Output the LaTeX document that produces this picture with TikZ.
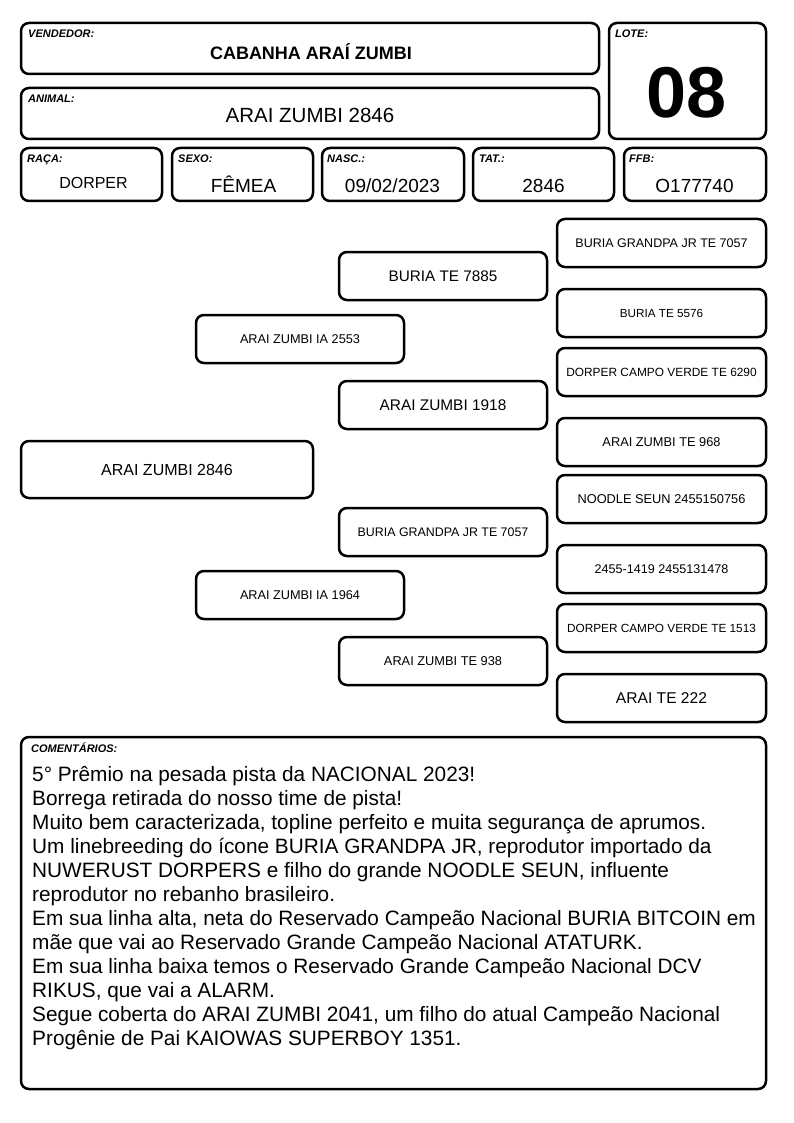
\documentclass[tikz,border=0pt]{standalone}
\usepackage{fontspec}
\setmainfont{Liberation Sans}
\newcommand\fs[1]{\fontsize{#1}{#1}\selectfont}
\begin{document}
\begin{tikzpicture}[x=1pt,y=-1pt,
  box/.style={draw=black, line width=2.5pt, rounded corners=8pt, inner sep=0pt, fill=white},
  lbl/.style={anchor=base west, inner sep=0pt, font=\fs{11}\bfseries\itshape},
  val/.style={anchor=base, inner sep=0pt},
  ptxt/.style={inner sep=0pt},
  cmt/.style={anchor=base west, inner sep=0pt, font=\fs{20.8}}]
\useasboundingbox[fill=white] (0,0) rectangle (794,1123);
% header boxes
\node[box, minimum width=578pt, minimum height=51pt] (vend) at (310,48.5) {};
\node[box, minimum width=157pt, minimum height=116pt] (lote) at (687.5,81) {};
\node[box, minimum width=578pt, minimum height=51pt] (animal) at (310,113.5) {};
\node[box, minimum width=141pt, minimum height=53pt] (raca) at (91.5,174.5) {};
\node[box, minimum width=141pt, minimum height=53pt] (sexo) at (242.5,174.5) {};
\node[box, minimum width=142pt, minimum height=53pt] (nasc) at (393,174.5) {};
\node[box, minimum width=141pt, minimum height=53pt] (tat) at (543.5,174.5) {};
\node[box, minimum width=142pt, minimum height=53pt] (ffb) at (695,174.5) {};
% labels
\node[lbl] (lvend) at (28,38) {VENDEDOR:};
\node[lbl] (llote) at (615,38) {LOTE:};
\node[lbl] (lanimal) at (28,103) {ANIMAL:};
\node[lbl] (lraca) at (27,163) {RAÇA:};
\node[lbl] (lsexo) at (178,163) {SEXO:};
\node[lbl] (lnasc) at (327,163) {NASC.:};
\node[lbl] (ltat) at (479,163) {TAT.:};
\node[lbl] (lffb) at (629,163) {FFB:};
% values
\node[val, font=\fs{18}\bfseries] (vvend) at (311,60) {CABANHA ARAÍ ZUMBI};
\node[val, font=\fs{72}\bfseries] (vlote) at (687,118) {08};
\node[val, font=\fs{20.5}] (vanimal) at (310,123) {ARAI ZUMBI 2846};
\node[val, font=\fs{16}] (vraca) at (93.5,189) {DORPER};
\node[val, font=\fs{19}] (vsexo) at (243.5,193) {FÊMEA};
\node[val, font=\fs{19}] (vnasc) at (392.5,193) {09/02/2023};
\node[val, font=\fs{19}] (vtat) at (543.5,193) {2846};
\node[val, font=\fs{19}] (vffb) at (694.5,193) {O177740};
% pedigree
\node[box, minimum width=292pt, minimum height=57pt, font=\fs{16}] (p0) at (167,469.5) {ARAI ZUMBI 2846};
\node[box, minimum width=208pt, minimum height=48pt, font=\fs{12.7}] (p1) at (300,339) {ARAI ZUMBI IA 2553};
\node[box, minimum width=208pt, minimum height=48pt, font=\fs{12.7}] (p2) at (300,595) {ARAI ZUMBI IA 1964};
\node[box, minimum width=208pt, minimum height=48pt, font=\fs{15.3}] (g1) at (443,276) {BURIA TE 7885};
\node[box, minimum width=208pt, minimum height=48pt, font=\fs{15.4}] (g2) at (443,405) {ARAI ZUMBI 1918};
\node[box, minimum width=208pt, minimum height=48pt, font=\fs{12.4}] (g3) at (443,532) {BURIA GRANDPA JR TE 7057};
\node[box, minimum width=208pt, minimum height=48pt, font=\fs{12.8}] (g4) at (443,661) {ARAI ZUMBI TE 938};
\node[box, minimum width=209pt, minimum height=48pt, font=\fs{12.5}] (h1) at (661.5,243) {BURIA GRANDPA JR TE 7057};
\node[box, minimum width=209pt, minimum height=48pt, font=\fs{11.7}] (h2) at (661.5,313) {BURIA TE 5576};
\node[box, minimum width=209pt, minimum height=48pt, font=\fs{11.9}] (h3) at (661.5,372) {DORPER CAMPO VERDE TE 6290};
\node[box, minimum width=209pt, minimum height=48pt, font=\fs{12.8}] (h4) at (661.5,442) {ARAI ZUMBI TE 968};
\node[box, minimum width=209pt, minimum height=48pt, font=\fs{12.8}] (h5) at (661.5,499) {NOODLE SEUN 2455150756};
\node[box, minimum width=209pt, minimum height=48pt, font=\fs{12.6}] (h6) at (661.5,569) {2455-1419 2455131478};
\node[box, minimum width=209pt, minimum height=48pt, font=\fs{11.8}] (h7) at (661.5,628) {DORPER CAMPO VERDE TE 1513};
\node[box, minimum width=209pt, minimum height=48pt, font=\fs{15.6}] (h8) at (661.5,698) {ARAI TE 222};
% comments
\node[box, minimum width=745pt, minimum height=352pt] (com) at (393.5,913) {};
\node[lbl] (lcom) at (31,752) {COMENTÁRIOS:};
\node[cmt] (c1) at (32,781) {5° Prêmio na pesada pista da NACIONAL 2023!};
\node[cmt] (c2) at (32,805) {Borrega retirada do nosso time de pista!};
\node[cmt] (c3) at (32,829) {Muito bem caracterizada, topline perfeito e muita segurança de aprumos.};
\node[cmt] (c4) at (32,853) {Um linebreeding do ícone BURIA GRANDPA JR, reprodutor importado da};
\node[cmt] (c5) at (32,877) {NUWERUST DORPERS e filho do grande NOODLE SEUN, influente};
\node[cmt] (c6) at (32,901) {reprodutor no rebanho brasileiro.};
\node[cmt] (c7) at (32,925) {Em sua linha alta, neta do Reservado Campeão Nacional BURIA BITCOIN em};
\node[cmt] (c8) at (32,949) {mãe que vai ao Reservado Grande Campeão Nacional ATATURK.};
\node[cmt] (c9) at (32,973) {Em sua linha baixa temos o Reservado Grande Campeão Nacional DCV};
\node[cmt] (c10) at (32,997) {RIKUS, que vai a ALARM.};
\node[cmt] (c11) at (32,1021) {Segue coberta do ARAI ZUMBI 2041, um filho do atual Campeão Nacional};
\node[cmt] (c12) at (32,1045) {Progênie de Pai KAIOWAS SUPERBOY 1351.};
\end{tikzpicture}
\end{document}
